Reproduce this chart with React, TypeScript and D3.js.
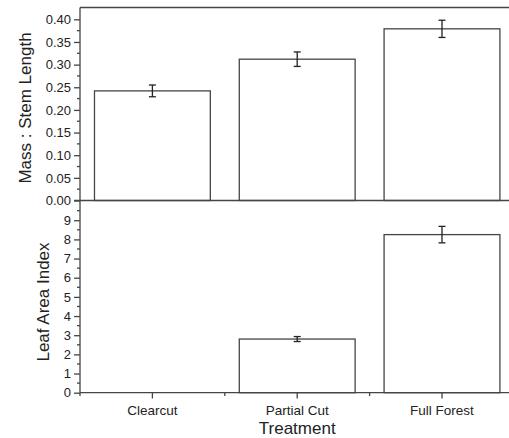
import React, { useEffect, useRef } from "react";
import * as d3 from "d3";

const treatments = ["Clearcut", "Partial Cut", "Full Forest"];
const massStem = [0.242, 0.312, 0.379];
const massStemErr = [0.013, 0.016, 0.019];
const lai = [0, 2.8, 8.25];
const laiErr = [0, 0.13, 0.43];
const massTicks = [0, 0.05, 0.1, 0.15, 0.2, 0.25, 0.3, 0.35, 0.4];
const laiTicks = [0, 1, 2, 3, 4, 5, 6, 7, 8, 9];

const W = 509;
const H = 438;
const FONT = "'Liberation Sans', Arial, sans-serif";
const LINE = "#454545";

const App = () => {
  const svgRef = useRef<SVGSVGElement>(null);

  useEffect(() => {
    const svg = d3.select(svgRef.current);
    svg.selectAll("*").remove();

    const left = 80;
    const plotRight = 514.4;

    const x = d3
      .scaleBand()
      .domain(treatments)
      .range([left, plotRight])
      .paddingInner(0.2)
      .paddingOuter(0.1);

    const yTop = d3.scaleLinear().domain([0, 0.425]).range([200.5, 8]);
    const yBot = d3.scaleLinear().domain([0, 10.03]).range([392.7, 200.5]);

    const panel = (
      y: d3.ScaleLinear<number, number>,
      vals: number[],
      errs: number[],
      ticks: number[],
      fmt: (d: number) => string
    ) => {
      const g = svg.append("g");
      // bars
      treatments.forEach((t, i) => {
        if (vals[i] <= 0) return;
        const x0 = x(t)!;
        g.append("rect")
          .attr("x", x0)
          .attr("y", y(vals[i]))
          .attr("width", x.bandwidth())
          .attr("height", y(0) - y(vals[i]))
          .attr("fill", "white")
          .attr("stroke", LINE)
          .attr("stroke-width", 1.3);
        const cx = x0 + x.bandwidth() / 2;
        const hi = y(vals[i] + errs[i]);
        const lo = y(vals[i] - errs[i]);
        g.append("line")
          .attr("x1", cx).attr("x2", cx).attr("y1", hi).attr("y2", lo)
          .attr("stroke", "#222").attr("stroke-width", 1.3);
        [hi, lo].forEach((yy) =>
          g.append("line")
            .attr("x1", cx - 3.5).attr("x2", cx + 3.5).attr("y1", yy).attr("y2", yy)
            .attr("stroke", "#222").attr("stroke-width", 1.3)
        );
      });

      // minor ticks
      const step = ticks[1] - ticks[0];
      const minors = ticks.map((t) => t + step / 2).filter((t) => y(t) >= y.range()[1]);
      g.selectAll(".minor")
        .data(minors)
        .join("line")
        .attr("x1", left - 3).attr("x2", left)
        .attr("y1", (d) => y(d)).attr("y2", (d) => y(d))
        .attr("stroke", LINE).attr("stroke-width", 1.3);

      const axis = d3.axisLeft(y).tickValues(ticks).tickFormat(fmt as any).tickSize(6).tickPadding(3);
      const ag = g.append("g").attr("transform", `translate(${left},0)`).call(axis);
      ag.select(".domain").remove();
      ag.selectAll("line").attr("stroke", LINE).attr("stroke-width", 1.3);
      ag.selectAll("text").attr("font-family", FONT).attr("font-size", 13).attr("fill", "#222");
      return g;
    };

    panel(yTop, massStem, massStemErr, massTicks, (d) => d3.format(".2f")(d));
    panel(yBot, lai, laiErr, laiTicks, (d) => String(d));

    // frame lines
    svg.append("line")
      .attr("x1", left).attr("x2", W).attr("y1", 7.5).attr("y2", 7.5)
      .attr("stroke", LINE).attr("stroke-width", 1.3);
    svg.append("line")
      .attr("x1", left).attr("x2", left).attr("y1", 7.5).attr("y2", 392.7)
      .attr("stroke", LINE).attr("stroke-width", 1.3);
    svg.append("line")
      .attr("x1", left - 6).attr("x2", W).attr("y1", 200.5).attr("y2", 200.5)
      .attr("stroke", LINE).attr("stroke-width", 1.3);
    svg.append("line")
      .attr("x1", left).attr("x2", W).attr("y1", 392.7).attr("y2", 392.7)
      .attr("stroke", LINE).attr("stroke-width", 1.3);

    // x-axis ticks
    const step = x.step();
    const centers = treatments.map((t) => x(t)! + x.bandwidth() / 2);
    const bounds = [centers[0] - step / 2, ...centers.map((c) => c + step / 2)];
    const xg = svg.append("g");
    xg.selectAll(".maj")
      .data(centers)
      .join("line")
      .attr("x1", (d) => d).attr("x2", (d) => d)
      .attr("y1", 392.7).attr("y2", 398.5)
      .attr("stroke", LINE).attr("stroke-width", 1.3);
    xg.selectAll(".min")
      .data(bounds)
      .join("line")
      .attr("x1", (d) => d).attr("x2", (d) => d)
      .attr("y1", 392.7).attr("y2", 396)
      .attr("stroke", LINE).attr("stroke-width", 1.3);
    xg.selectAll("text")
      .data(treatments)
      .join("text")
      .attr("x", (d, i) => centers[i])
      .attr("y", 415)
      .attr("text-anchor", "middle")
      .attr("font-family", FONT)
      .attr("font-size", 13.5)
      .attr("fill", "#222")
      .text((d) => d);

    svg.append("text")
      .attr("x", centers[1])
      .attr("y", 434)
      .attr("text-anchor", "middle")
      .attr("font-family", FONT)
      .attr("font-size", 17)
      .attr("fill", "#222")
      .text("Treatment");

    svg.append("text")
      .attr("transform", `translate(31,108) rotate(-90)`)
      .attr("text-anchor", "middle")
      .attr("font-family", FONT)
      .attr("font-size", 17)
      .attr("fill", "#222")
      .text("Mass : Stem Length");

    svg.append("text")
      .attr("transform", `translate(49,302) rotate(-90)`)
      .attr("text-anchor", "middle")
      .attr("font-family", FONT)
      .attr("font-size", 17)
      .attr("fill", "#222")
      .text("Leaf Area Index");
  }, []);

  return (
    <svg
      ref={svgRef}
      width={W}
      height={H}
      style={{ position: "absolute", left: 0, top: 0, background: "white" }}
    />
  );
};

export default App;
